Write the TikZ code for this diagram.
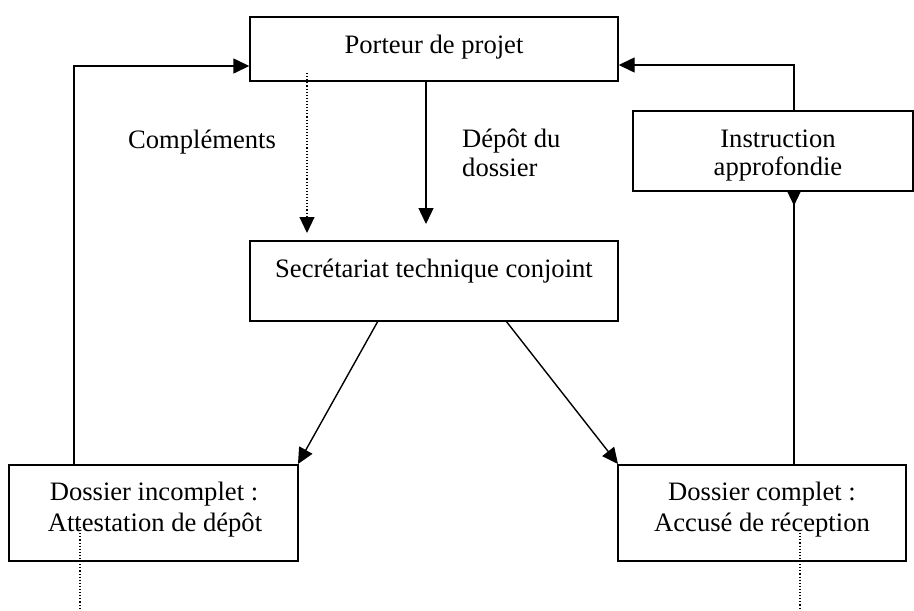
\documentclass[tikz,border=0pt]{standalone}
\usepackage{fontspec}
\setmainfont{Liberation Serif}
\usetikzlibrary{arrows.meta}
\begin{document}
\begin{tikzpicture}[x=1pt,y=-1pt,
  box/.style={draw, line width=1.4pt, inner sep=0pt, fill=white},
  lbl/.style={font=\fontsize{26.6}{29}\selectfont, inner sep=0pt, anchor=base},
  tip/.style={},
  arr/.style={line width=1.4pt, -{Triangle[length=16pt,width=15pt]}},
  dots/.style={line width=1.1pt, dotted}]
\useasboundingbox (0,0) rectangle (914,611);
% boxes
\node[box, minimum width=368pt, minimum height=64pt] (porteur) at (434,49) {};
\node[box, minimum width=368pt, minimum height=80pt] (secr) at (434,281) {};
\node[box, minimum width=280pt, minimum height=80pt] (instr) at (773,151) {};
\node[box, minimum width=289pt, minimum height=96pt] (dinc) at (153.5,513) {};
\node[box, minimum width=288pt, minimum height=96pt] (dcomp) at (762,513) {};
% texts
\node[lbl] (tporteur) at (434,53) {Porteur de projet};
\node[lbl] (tsecr) at (434,277) {Secrétariat technique conjoint};
\node[lbl] (tinstr1) at (778,147) {Instruction};
\node[lbl] (tinstr2) at (778,175) {approfondie};
\node[lbl] (tdinc1) at (154,500) {Dossier incomplet :};
\node[lbl] (tdinc2) at (155,531) {Attestation de dépôt};
\node[lbl] (tdc1) at (762,500) {Dossier complet :};
\node[lbl] (tdc2) at (762,531) {Accusé de réception};
\node[lbl, anchor=base west] (tcompl) at (128,148) {Compléments};
\node[lbl, anchor=base west] (tdep1) at (462,147) {Dépôt du};
\node[lbl, anchor=base west] (tdep2) at (462,176) {dossier};
% coordinates
\coordinate (lA) at (74,66);
\coordinate (rA) at (794,65);
\coordinate (dT) at (426,224);
\coordinate (cS) at (307,73);
\coordinate (cT) at (307,233);
\coordinate (gL1) at (378,321);
\coordinate (gL2) at (298,464);
\coordinate (gR1) at (506,321);
\coordinate (gR2) at (618,464);
\coordinate (bL1) at (80,527);
\coordinate (bL2) at (80,611);
\coordinate (bR1) at (800,530);
\coordinate (bR2) at (800,611);
% connectors
\draw[arr] (lA |- dinc.north) |- (porteur.west |- lA);
\draw[arr] (rA |- instr.north) |- (porteur.east |- rA);
\draw[line width=1.4pt, {Triangle[reversed,length=14pt,width=13pt]}-] (rA |- instr.south) -- (rA |- dcomp.north);
\draw[arr] (porteur.south -| dT) -- (dT);
\draw[dots, -{Triangle[length=16pt,width=15pt]}] (cS) -- (cT);
\draw[arr] (gL1) -- (gL2);
\draw[arr] (gR1) -- (gR2);
\draw[dots] (bL1) -- (bL2);
\draw[dots] (bR1) -- (bR2);
\end{tikzpicture}
\end{document}
